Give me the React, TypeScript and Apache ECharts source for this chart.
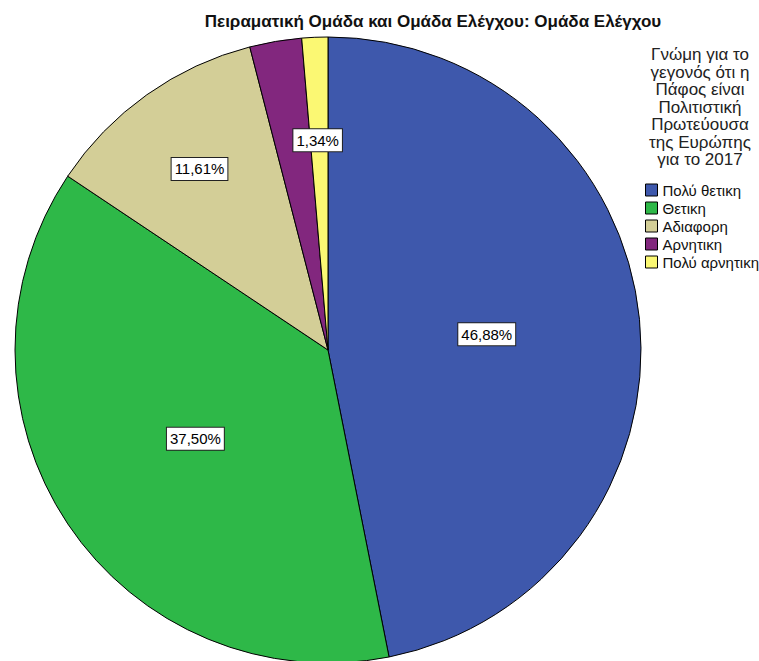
import React, { useEffect, useRef } from "react";
import * as echarts from "echarts";

const categories = ["Πολύ θετικη", "Θετικη", "Αδιαφορη", "Αρνητικη", "Πολύ αρνητικη"];
const percents = [46.88, 37.5, 11.61, 2.68, 1.34];
const colors = ["#3e58ac", "#2eb848", "#d3ce97", "#82277e", "#fbf873"];
const centerLabelShown = [true, true, false, false, false];
const outerLabelShown = [false, false, true, false, true];
const chartTitle = "Πειραματική Ομάδα και Ομάδα Ελέγχου: Ομάδα Ελέγχου";
const legendTitle = "Γνώμη για το\nγεγονός ότι η\nΠάφος είναι\nΠολιτιστική\nΠρωτεύουσα\nτης Ευρώπης\nγια το 2017";

const FONT = "'Liberation Sans', Arial, sans-serif";

const fmt = (v: number) => v.toFixed(2).replace(".", ",") + "%";

const labelBox = {
  color: "#000",
  fontSize: 15,
  fontFamily: FONT,
  backgroundColor: "#fff",
  borderColor: "#222",
  borderWidth: 1,
  padding: [4, 3, 3, 3],
};

export default function App() {
  const ref = useRef<HTMLDivElement>(null);
  useEffect(() => {
    if (!ref.current) return;
    const chart = echarts.init(ref.current, null, { renderer: "svg" });
    const mainData = categories.map((name, i) => ({
      name,
      value: percents[i],
      itemStyle: { color: colors[i] },
      label: { show: centerLabelShown[i] },
    }));
    const overlayData = categories.map((name, i) => ({
      name,
      value: percents[i],
      itemStyle: { color: "rgba(0,0,0,0)", borderWidth: 0 },
      label: { show: outerLabelShown[i] },
    }));
    chart.setOption({
      animation: false,
      backgroundColor: "#fff",
      title: {
        text: chartTitle,
        left: 428,
        textAlign: "center",
        top: 8,
        textStyle: { fontSize: 17, fontWeight: "bold", fontFamily: FONT, color: "#111" },
      },
      graphic: [
        {
          type: "text",
          x: 700,
          y: 46,
          style: {
            text: legendTitle,
            fill: "#222",
            font: "17px " + FONT,
            lineHeight: 17.5,
            align: "center",
            verticalAlign: "top",
          },
        },
      ],
      legend: {
        orient: "vertical",
        left: 645,
        top: 181,
        padding: 0,
        icon: "rect",
        itemWidth: 12,
        itemHeight: 12,
        itemGap: 0,
        itemStyle: { borderColor: "#000", borderWidth: 1 },
        textStyle: { fontSize: 15, lineHeight: 18, fontFamily: FONT, color: "#111" },
        data: categories,
        selectedMode: false,
      },
      series: [
        {
          type: "pie",
          center: [328, 350],
          radius: [0, 313],
          startAngle: 90,
          clockwise: true,
          avoidLabelOverlap: false,
          data: mainData,
          itemStyle: { borderColor: "#000", borderWidth: 1 },
          label: {
            position: "inside",
            formatter: (p: any) => fmt(p.value),
            ...labelBox,
          },
          labelLine: { show: false },
          emphasis: { disabled: true },
        },
        {
          type: "pie",
          center: [328, 350],
          radius: [125, 313],
          startAngle: 90,
          clockwise: true,
          silent: true,
          avoidLabelOverlap: false,
          legendHoverLink: false,
          data: overlayData,
          label: {
            position: "inside",
            formatter: (p: any) => fmt(p.value),
            ...labelBox,
          },
          labelLayout: (params: any) => (params.dataIndex === 4 ? { dx: -1, dy: 12 } : {}),
          labelLine: { show: false },
          emphasis: { disabled: true },
        },
      ],
    });
    return () => chart.dispose();
  }, []);
  return (
    <div
      ref={ref}
      style={{ position: "fixed", left: 0, top: 0, width: 759, height: 661 }}
    />
  );
}
